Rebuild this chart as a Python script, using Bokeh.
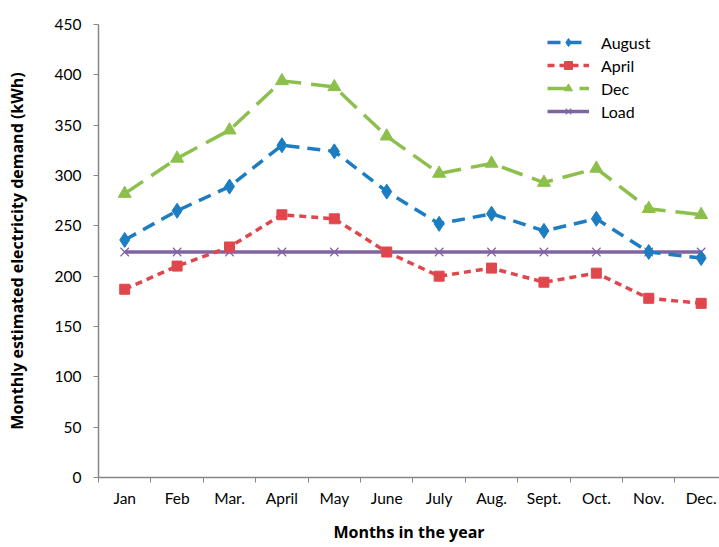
from bokeh.plotting import figure
from bokeh.models import Range1d, FixedTicker, Legend, LegendItem, ColumnDataSource
from bokeh.embed import file_html
from bokeh.resources import INLINE

months = ["Jan", "Feb", "Mar.", "April", "May", "June", "July", "Aug.", "Sept.", "Oct.", "Nov.", "Dec."]
august = [236, 265, 289, 330, 324, 284, 252, 262, 245, 257, 224, 218]
april = [187, 210, 229, 261, 257, 224, 200, 208, 194, 203, 178, 173]
dec = [282, 317, 345, 394, 388, 339, 302, 312, 293, 307, 267, 261]
load = [224] * 12
y_ticks = [0, 50, 100, 150, 200, 250, 300, 350, 400, 450]

FONT = "Lato"
TITLE_FONT = "Open Sans"
xs = [i + 0.5 for i in range(len(months))]

p = figure(width=719, height=547, output_backend="svg", toolbar_location=None,
           x_range=Range1d(0, 11.85), y_range=Range1d(0, 450),
           min_border_left=98, min_border_top=24, min_border_bottom=70, min_border_right=0)
p.outline_line_color = None
p.xgrid.visible = False
p.ygrid.visible = False

axis_color = "#868686"
p.xaxis.ticker = FixedTicker(ticks=xs, minor_ticks=list(range(len(months) + 1)))
p.xaxis.major_label_overrides = {x: m for x, m in zip(xs, months)}
p.xaxis.major_tick_out = 0
p.xaxis.major_tick_in = 0
p.xaxis.minor_tick_out = 5
p.xaxis.minor_tick_in = 0
p.xaxis.minor_tick_line_color = axis_color
p.xaxis.axis_line_color = axis_color
p.xaxis.axis_line_width = 1.5
p.xaxis.major_label_standoff = 6
p.xaxis.axis_label = "Months in the year"
p.xaxis.axis_label_standoff = 11

p.yaxis.ticker = FixedTicker(ticks=y_ticks)
p.yaxis.major_tick_out = 5
p.yaxis.major_tick_in = 0
p.yaxis.minor_tick_line_color = None
p.yaxis.major_tick_line_color = axis_color
p.yaxis.axis_line_color = axis_color
p.yaxis.axis_line_width = 1.5
p.yaxis.major_label_standoff = 12
p.yaxis.axis_label = "Monthly estimated electricity demand (kWh)"
p.yaxis.axis_label_standoff = 24

for ax in (p.xaxis, p.yaxis):
    ax.major_label_text_font = FONT
    ax.major_label_text_font_size = "15.5px"
    ax.major_label_text_color = "#000000"
    ax.axis_label_text_font = TITLE_FONT
    ax.axis_label_text_font_size = "16px"
    ax.axis_label_text_font_style = "bold"
    ax.axis_label_text_color = "#000000"

blue = "#1C7DC2"
red = "#E0474C"
green = "#8DBF4C"
purple = "#8064A2"

src = ColumnDataSource(dict(x=xs, august=august, april=april, dec=dec, load=load))

l_load = p.line("x", "load", source=src, line_color=purple, line_width=3.5)
m_load = p.scatter("x", "load", source=src, marker="x", size=12, line_color=purple, line_width=1.2)

l_apr = p.line("x", "april", source=src, line_color=red, line_width=3.5, line_dash="7 5")
m_apr = p.scatter("x", "april", source=src, marker="square", size=10, fill_color=red, line_color=red)

l_aug = p.line("x", "august", source=src, line_color=blue, line_width=3.5, line_dash="13 8")
m_aug = p.scatter("x", "august", source=src, marker="diamond", size=15, fill_color=blue, line_color=blue)

l_dec = p.line("x", "dec", source=src, line_color=green, line_width=3.5, line_dash="22 10")
m_dec = p.scatter("x", "dec", source=src, marker="triangle", size=13, fill_color=green, line_color=green)

legend = Legend(items=[
    LegendItem(label="August", renderers=[l_aug, m_aug]),
    LegendItem(label="April", renderers=[l_apr, m_apr]),
    LegendItem(label="Dec", renderers=[l_dec, m_dec]),
    LegendItem(label="Load", renderers=[l_load, m_load]),
], location=(449, 356))
legend.label_text_font = FONT
legend.label_text_font_size = "16px"
legend.label_text_color = "#000000"
legend.glyph_width = 42
legend.glyph_height = 20
legend.label_height = 20
legend.spacing = 3
legend.padding = 5
legend.label_standoff = 12
legend.border_line_color = None
legend.background_fill_alpha = 0
p.add_layout(legend)

open("out.html", "w").write(file_html(p, INLINE))
